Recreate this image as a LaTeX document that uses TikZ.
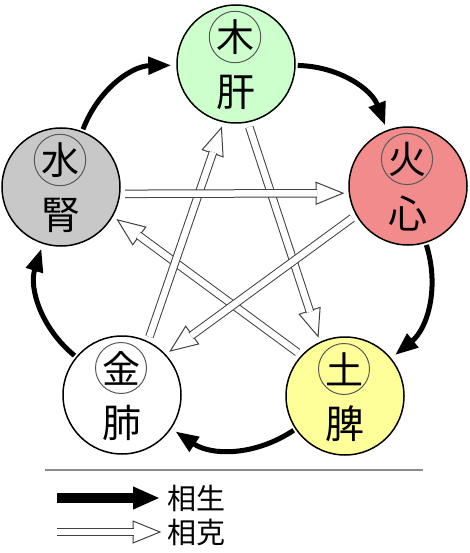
\documentclass[tikz,border=0pt]{standalone}
\usepackage{fontspec}
\newfontfamily\cjk{Noto Sans CJK JP}
\usetikzlibrary{calc,arrows.meta}
\definecolor{cmu}{HTML}{CCFFCC}
\definecolor{chuo}{HTML}{F28C8C}
\definecolor{ctu}{HTML}{FFFF99}
\definecolor{cjin}{HTML}{FFFFFF}
\definecolor{cshui}{HTML}{C8C8C8}
\definecolor{keline}{HTML}{404040}
\newcommand\hollowarr[3]{%
  \path ($(#2)!27pt!(#1)$) coordinate (#3b);
  \draw[kehead] (#2) -- ($(#3b)!11pt!90:(#2)$) -- ($(#3b)!11pt!-90:(#2)$) -- cycle;
  \draw[keshaft] (#1) -- ($(#3b)!1.2pt!(#2)$);
}
\newcommand\kearr[2]{%
  \path ($(#1)!64pt!(#2)$) coordinate (#1#2a) ($(#2)!65pt!(#1)$) coordinate (#1#2z);
  \path ($(#1#2a)!7pt!-90:(#1#2z)$) coordinate (#1#2s) ($(#1#2z)!7pt!90:(#1#2a)$) coordinate (#1#2e);
  \hollowarr{#1#2s}{#1#2e}{#1#2}%
}
\begin{document}
\begin{tikzpicture}[x=1pt,y=-1pt,
  elem/.style={circle,draw=black,line width=1.5pt,minimum size=118pt,inner sep=0pt},
  innerc/.style={circle,draw=black!65,line width=1pt,minimum size=51pt,inner sep=0pt,font=\cjk\fontsize{38}{38}\selectfont},
  organ/.style={inner sep=0pt,font=\cjk\fontsize{39}{39}\selectfont},
  sheng/.style={line width=5pt,-{Triangle[length=23pt,width=17pt]},shorten <=2pt,shorten >=5pt},
  kehead/.style={draw=keline,line width=1pt,fill=white,line join=miter},
  keshaft/.style={draw=keline,line width=1pt,double=white,double distance=6.5pt},
  legtext/.style={inner sep=0pt,anchor=west,font=\cjk\fontsize{29}{29}\selectfont}]
\useasboundingbox (0,0) rectangle (469,553);
% elements
\node[elem,fill=cmu] (mu) at (236,64) {};
\node[elem,fill=chuo] (huo) at (408,186) {};
\node[elem,fill=ctu] (tu) at (345,396) {};
\node[elem,fill=cjin] (jin) at (122,395) {};
\node[elem,fill=cshui] (shui) at (61,187) {};
\node[innerc] (muc) at (235,37) {木};
\node[organ] (mut) at (236,92) {肝};
\node[innerc] (huoc) at (407,159) {火};
\node[organ] (huot) at (408,214) {心};
\node[innerc] (tuc) at (344,369) {土};
\node[organ] (tut) at (345,424) {脾};
\node[innerc] (jinc) at (121,368) {金};
\node[organ] (jint) at (122,423) {肺};
\node[innerc] (shuic) at (60,160) {水};
\node[organ] (shuit) at (61,215) {腎};
% sheng cycle
\draw[sheng] (mu) to[bend left=34] (huo);
\draw[sheng] (huo) to[bend left=34] (tu);
\draw[sheng] (tu) to[bend left=34] (jin);
\draw[sheng] (jin) to[bend left=34] (shui);
\draw[sheng] (shui) to[bend left=34] (mu);
% ke cycle
\kearr{mu}{tu}
\kearr{tu}{shui}
\kearr{huo}{jin}
\kearr{jin}{mu}
\kearr{shui}{huo}
% legend
\coordinate (ll) at (45,470);
\coordinate (lr) at (423,470);
\draw[black!45,line width=1.2pt] (ll) -- (lr);
\node[legtext] (shengt) at (167,498) {相生};
\node[legtext] (ket) at (167,532) {相克};
\coordinate (shengs) at (57,498);
\coordinate (kes) at (57,532);
\draw[line width=10pt,-{Triangle[length=27pt,width=21pt]},shorten >=7pt] (shengs) -- (shengt.west);
\path ($(ket.west)+(-7,0)$) coordinate (kee);
\hollowarr{kes}{kee}{leg}
\end{tikzpicture}
\end{document}
